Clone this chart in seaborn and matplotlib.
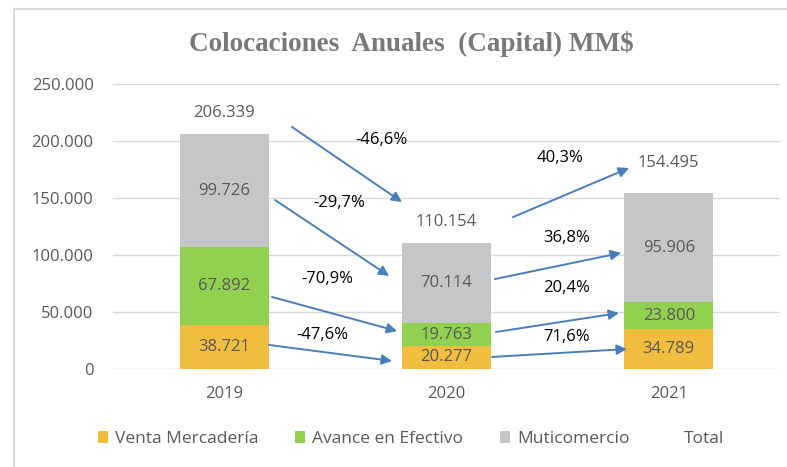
import matplotlib
matplotlib.use("Agg")
import matplotlib.pyplot as plt
import seaborn as sns
import pandas as pd
from matplotlib.patches import Patch
from matplotlib.lines import Line2D
from matplotlib.ticker import FuncFormatter

# ---- data ----
years = ["2019", "2020", "2021"]
venta = [38721, 20277, 34789]
avance = [67892, 19763, 23800]
multi = [99726, 70114, 95906]
series_names = ["Venta Mercadería", "Avance en Efectivo", "Muticomercio", "Total"]
y_ticks = [0, 50000, 100000, 150000, 200000, 250000]
title = "Colocaciones  Anuales  (Capital) MM$"

# ---- style ----
c_venta = "#F0BD3F"
c_avance = "#92D050"
c_multi = "#C5C6C8"
c_text = "#595959"
c_arrow = "#4A7EBB"
c_grid = "#D9D9D9"

sns.set_theme(style="white")
plt.rcParams["font.family"] = ["Open Sans", "DejaVu Sans"]

df = pd.DataFrame({"year": years, "venta": venta, "avance": avance, "multi": multi})
df["top_venta"] = df["venta"]
df["top_avance"] = df["venta"] + df["avance"]
df["total"] = df["top_avance"] + df["multi"]

fig = plt.figure(figsize=(7.87, 4.67), dpi=100)
ax = fig.add_axes([0.1436, 0.2099, 0.8474, 0.6102])

# stacked bars: draw cumulative heights back to front
bw = 0.4
for col, color in [("total", c_multi), ("top_avance", c_avance), ("top_venta", c_venta)]:
    sns.barplot(data=df, x="year", y=col, color=color, width=bw, saturation=1,
                order=years, ax=ax, linewidth=0, zorder=2)

ax.set_xlim(-0.5, 2.5)
ax.set_ylim(0, 250000)
ax.set_yticks(y_ticks)
ax.yaxis.set_major_formatter(FuncFormatter(lambda v, _: f"{v:,.0f}".replace(",", ".")))
ax.set_xlabel("")
ax.set_ylabel("")
ax.grid(axis="y", color=c_grid, linewidth=1, zorder=0)
ax.set_axisbelow(True)
for s in ax.spines.values():
    s.set_visible(False)
ax.tick_params(axis="both", length=0, labelsize=12, labelcolor=c_text)
ax.tick_params(axis="x", pad=12)
ax.tick_params(axis="y", pad=14)


def thousands(v):
    return f"{v:,.0f}".replace(",", ".")


def pct(a, b):
    return f"{(b / a - 1) * 100:.1f}%".replace(".", ",")


# segment labels
mids = {
    "venta": [v / 2 for v in df["venta"]],
    "avance": [df["top_venta"][i] + df["avance"][i] / 2 for i in range(3)],
    "multi": [df["top_avance"][i] + df["multi"][i] / 2 for i in range(3)],
    "total": list(df["total"]),
}
for key in ["venta", "avance", "multi"]:
    for i in range(3):
        ax.text(i, mids[key][i], thousands(df[key][i]), ha="center", va="center",
                fontsize=12, color=c_text, zorder=4)

# total labels above the bars
total_offsets = [15, 15.5, 21.5]
for i in range(3):
    ax.annotate(thousands(df["total"][i]), (i, df["total"][i]), xytext=(0, total_offsets[i]),
                textcoords="offset points", ha="center", va="center", fontsize=12,
                color=c_text, zorder=4)

# growth arrows between consecutive years
keys = ["venta", "avance", "multi", "total"]
arrow_x0 = [[0.202, 0.215, 0.229, 0.305], [1.205, 1.223, 1.218, 1.299]]
arrow_x1 = [[0.755, 0.778, 0.742, 0.800], [1.812, 1.776, 1.785, 1.821]]
arrow_dy0 = [[1700, -9500, -8300, 6000], [400, 2300, 3800, 23100]]
arrow_dy1 = [[-3100, 3100, 6500, 36300], [100, 2400, -4700, 21800]]
pct_x = [[0.440, 0.463, 0.517, 0.710], [1.538, 1.538, 1.542, 1.511]]
pct_y = [[29800, 78900, 145600, 200900], [28100, 71100, 114900, 185100]]

for p in range(2):
    for k, key in enumerate(keys):
        y0 = mids[key][p] + arrow_dy0[p][k]
        y1 = mids[key][p + 1] + arrow_dy1[p][k]
        ax.annotate("", xy=(arrow_x1[p][k], y1), xytext=(arrow_x0[p][k], y0),
                    arrowprops=dict(arrowstyle="-|>", color=c_arrow, lw=1.4,
                                    mutation_scale=15, shrinkA=0, shrinkB=0),
                    zorder=5)
        a = df[key][p]
        b = df[key][p + 1]
        ax.text(pct_x[p][k], pct_y[p][k], pct(a, b), ha="center", va="center",
                fontsize=12, color="black", zorder=5)

# title
fig.text(0.522, 0.906, title, ha="center", va="center", fontsize=19.5,
         fontweight="bold", color="#7A7878", family="Liberation Serif")

# legend
handles = [
    Patch(facecolor=c_venta, edgecolor="none"),
    Patch(facecolor=c_avance, edgecolor="none"),
    Patch(facecolor=c_multi, edgecolor="none"),
    Line2D([], [], linestyle="none", marker=None),
]
leg = fig.legend(handles, series_names, loc="center", bbox_to_anchor=(0.522, 0.060),
                 ncol=4, frameon=False, fontsize=12.5, handlelength=0.6, handleheight=0.65,
                 handletextpad=0.4, columnspacing=2.1)
for t in leg.get_texts():
    t.set_color(c_text)

# chart frame
fig.add_artist(Line2D([14 / 787, 14 / 787], [0, 1 - 8.5 / 467], color="#D9D9D9", lw=1.6,
                      transform=fig.transFigure))
fig.add_artist(Line2D([14 / 787, 1], [1 - 8.5 / 467, 1 - 8.5 / 467], color="#D9D9D9", lw=1.6,
                      transform=fig.transFigure))

fig.savefig("out.png", dpi=100)
